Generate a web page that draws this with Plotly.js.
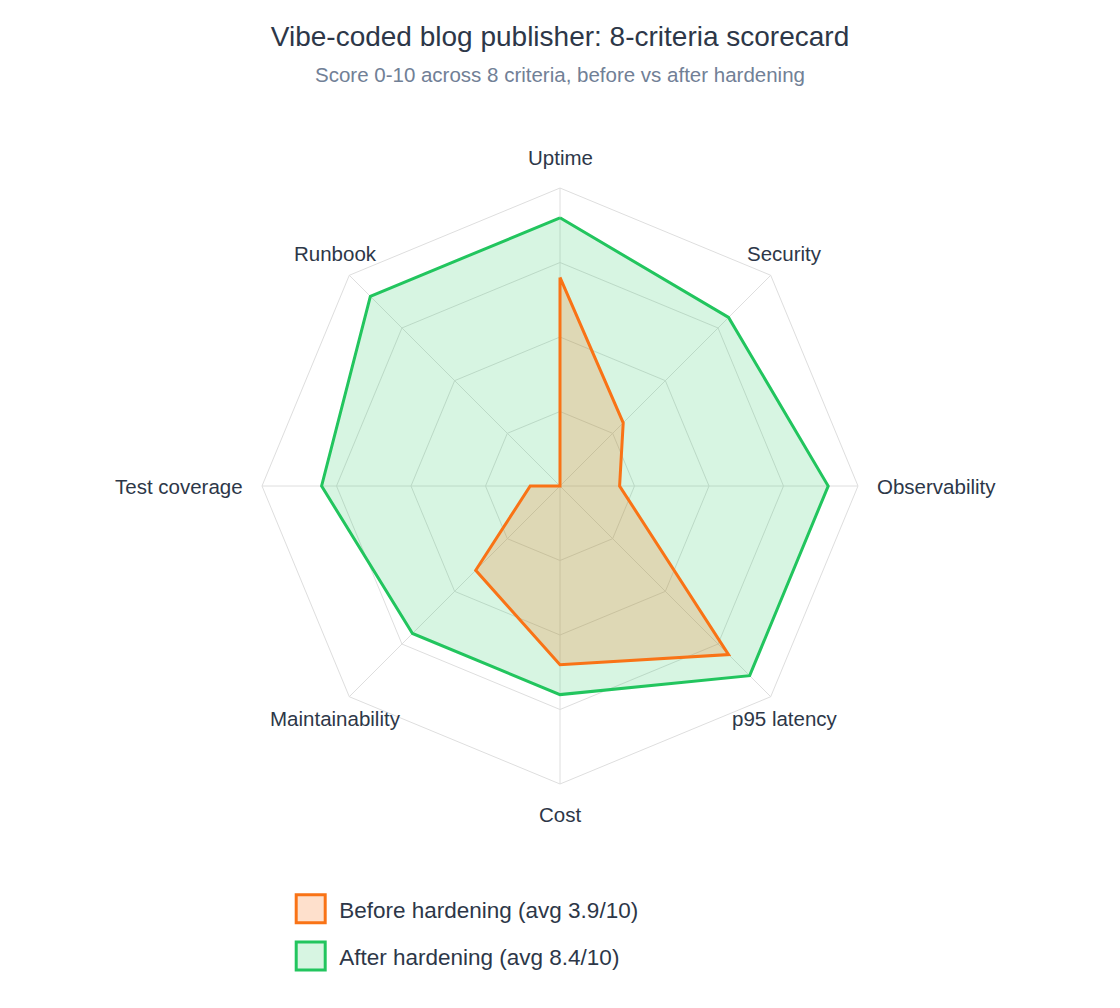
<!DOCTYPE html>
<html>
<head>
<meta charset="utf-8">
<script src="https://cdn.plot.ly/plotly-3.0.1.min.js"></script>
<style>
  body { margin: 0; background: #fff; }
  #chart { width: 1120px; height: 1008px; }
</style>
</head>
<body>
<div id="chart"></div>
<script>
// criteria, clockwise from the top
const criteria = ['Uptime', 'Security', 'Observability', 'p95 latency', 'Cost', 'Maintainability', 'Test coverage', 'Runbook'];

// scores 0-10
const beforeScores = [7, 3, 2, 8, 6, 4, 1, 0];
const afterScores = [9, 8, 9, 9, 7, 7, 8, 9];

const beforeName = 'Before hardening (avg 3.9/10)';
const afterName = 'After hardening (avg 8.4/10)';

// close the polygon
function closed(arr) {
    return arr.concat([arr[0]]);
}

const textColor = '#2d3748';
const gridColor = '#dedede';

const W = 1120, H = 1008;
const margin = {l: 80, r: 80, t: 188, b: 224};
const plotW = W - margin.l - margin.r;
const plotH = H - margin.t - margin.b;
const radius = Math.min(plotW, plotH) / 2;

const traces = [
    {
        type: 'scatterpolar',
        r: closed(afterScores),
        theta: closed(criteria),
        name: afterName,
        legendgroup: 'after',
        legendrank: 2,
        mode: 'lines',
        fill: 'toself',
        fillcolor: 'rgba(34,197,94,0.18)',
        line: {color: '#22c55e', width: 3}
    },
    {
        type: 'scatterpolar',
        r: closed(beforeScores),
        theta: closed(criteria),
        name: beforeName,
        legendgroup: 'before',
        legendrank: 1,
        mode: 'lines',
        fill: 'toself',
        fillcolor: 'rgba(249,115,22,0.22)',
        line: {color: '#f97316', width: 3}
    }
];

// category labels around the chart, centred over the diagonal spokes
const labelAnnotations = criteria.map(function (name, i) {
    const a = Math.PI / 2 - i * 2 * Math.PI / criteria.length;
    const c = Math.cos(a), s = Math.sin(a);
    const side = Math.abs(c) > 0.9;
    const d = radius + (side ? 17 : 20);
    const px = d * c;
    const py = d * s + 10.5 * Math.abs(s) * Math.sign(s);
    let xanchor = 'center';
    if (side) xanchor = c > 0 ? 'left' : 'right';
    return {
        text: name,
        xref: 'paper', yref: 'paper',
        x: 0.5 + px / plotW,
        y: 0.5 + py / plotH,
        xanchor: xanchor,
        yanchor: 'middle',
        showarrow: false,
        font: {size: 20.5, color: textColor}
    };
});

const layout = {
    width: W,
    height: H,
    paper_bgcolor: '#ffffff',
    plot_bgcolor: '#ffffff',
    font: {family: 'Liberation Sans, Arial, sans-serif', color: textColor, size: 20.5},
    margin: margin,
    title: {
        text: 'Vibe-coded blog publisher: 8-criteria scorecard',
        font: {size: 28, color: textColor},
        x: 0.5,
        xanchor: 'center',
        y: 0.9643,
        yanchor: 'middle'
    },
    annotations: [{
        text: 'Score 0-10 across 8 criteria, before vs after hardening',
        xref: 'paper', yref: 'paper',
        x: 0.5, y: 1.19,
        xanchor: 'center', yanchor: 'middle',
        showarrow: false,
        font: {size: 20.5, color: '#718096'}
    }].concat(labelAnnotations),
    polar: {
        bgcolor: '#ffffff',
        radialaxis: {
            range: [0, 10],
            dtick: 2.5,
            showticklabels: false,
            ticks: '',
            showline: false,
            gridcolor: gridColor
        },
        angularaxis: {
            direction: 'clockwise',
            rotation: 90,
            gridcolor: gridColor,
            linecolor: gridColor,
            ticks: '',
            showticklabels: false
        },
        gridshape: 'linear'
    },
    showlegend: true,
    legend: {
        orientation: 'v',
        traceorder: 'grouped',
        x: 0.22,
        xanchor: 'left',
        y: -0.174,
        yanchor: 'top',
        itemwidth: 38,
        tracegroupgap: 15,
        font: {size: 22.5, color: textColor},
        bgcolor: 'rgba(0,0,0,0)'
    }
};

// legend swatches as outlined squares
function squareSwatches() {
    document.querySelectorAll('#chart .legend .traces').forEach(function (item) {
        const sq = 'M5,-14h29v28h-29z';
        const fill = item.querySelector('.legendfill path');
        const line = item.querySelector('.legendlines path');
        if (fill) fill.setAttribute('d', sq);
        if (line) {
            line.setAttribute('d', sq);
            line.style.fill = 'none';
        }
    });
}

Plotly.newPlot('chart', traces, layout, {displayModeBar: false, responsive: false}).then(squareSwatches);
</script>
</body>
</html>
